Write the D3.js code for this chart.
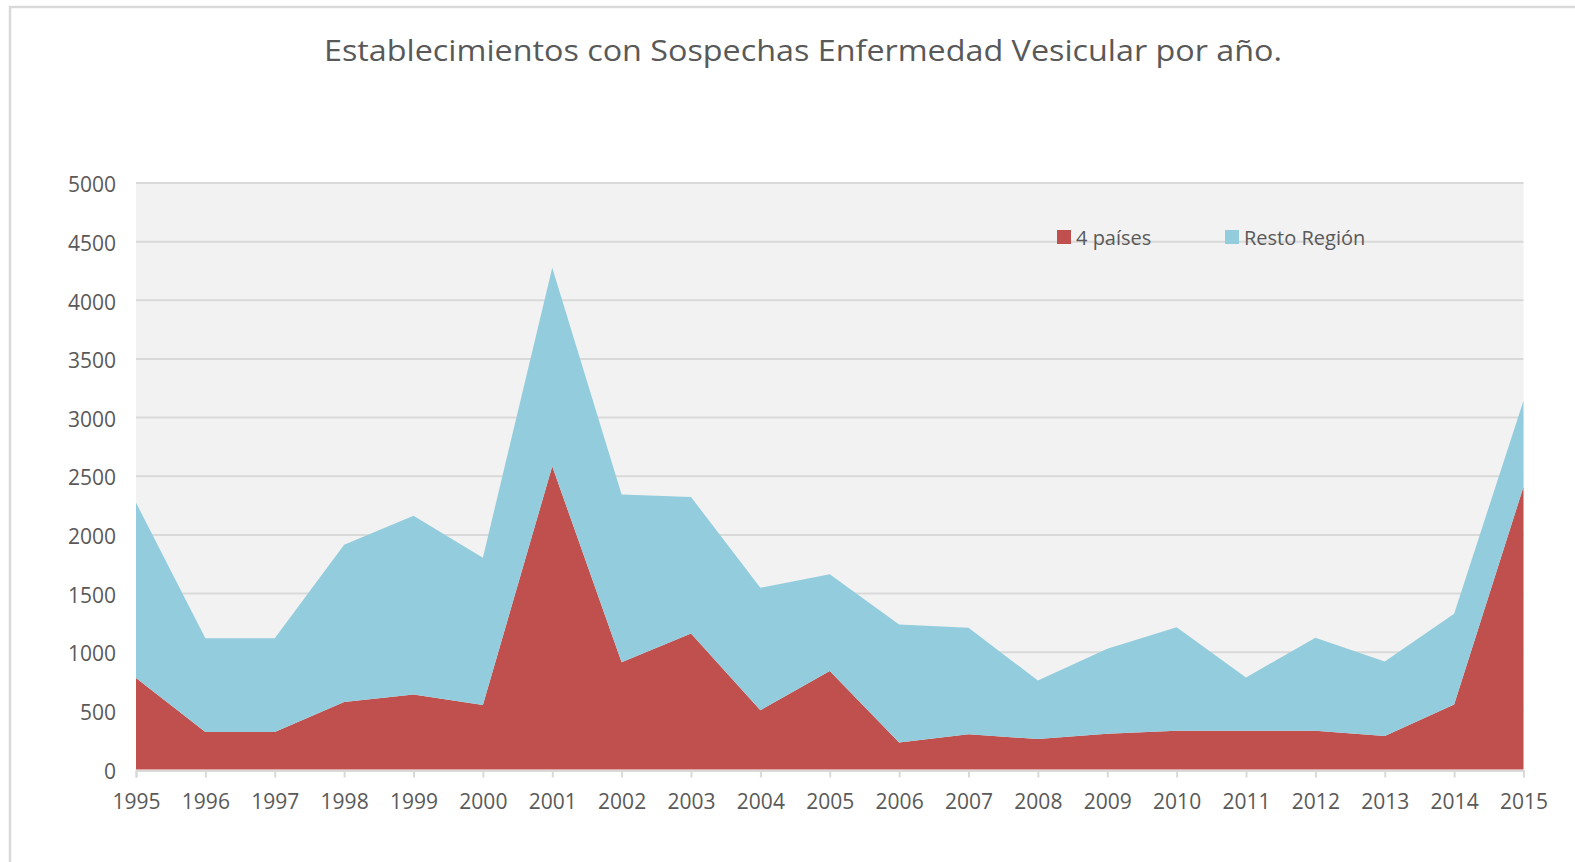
<!DOCTYPE html>
<html lang="es">
<head>
<meta charset="utf-8">
<title>Establecimientos con Sospechas Enfermedad Vesicular</title>
<script src="https://d3js.org/d3.v7.min.js"></script>
<style>
  body { margin: 0; background: #fff; }
  text { font-family: "Open Sans", "Noto Sans", sans-serif; fill: #595959; }
</style>
</head>
<body>
<div id="canvas"></div>
<script>
const width = 1575
const height = 862

// data
const years = [1995,1996,1997,1998,1999,2000,2001,2002,2003,2004,2005,2006,2007,2008,2009,2010,2011,2012,2013,2014,2015]
const cuatroPaises = [780,320,320,575,640,550,2585,915,1160,505,840,230,300,260,305,330,330,330,285,555,2410]
const restoRegion = [1495,798,798,1341,1524,1255,1693,1430,1163,1044,824,1006,908,499,725,883,455,793,636,773,734]
const yTicks = [0,500,1000,1500,2000,2500,3000,3500,4000,4500,5000]
const seriesNames = ["4 países", "Resto Región"]
const colors = ["#C0504D", "#93CDDD"]

const margin = {left: 136, right: 52, top: 183, bottom: 92}

const svg = d3.select("#canvas")
  .append("svg")
    .attr("width", width)
    .attr("height", height)

// outer frame
svg.append("rect")
  .attr("x", 10).attr("y", 7)
  .attr("width", width).attr("height", height)
  .attr("fill", "none")
  .attr("stroke", "#d9d9d9")
  .attr("stroke-width", 2.5)

svg.append("text")
  .attr("x", 803).attr("y", 61)
  .attr("text-anchor", "middle")
  .style("font-size", "30px")
  .attr("textLength", 958)
  .attr("lengthAdjust", "spacingAndGlyphs")
  .text("Establecimientos con Sospechas Enfermedad Vesicular por año.")

const x = d3.scaleLinear()
  .domain([years[0], years[years.length - 1]])
  .range([margin.left, width - margin.right + 0.5])

const y = d3.scaleLinear()
  .domain([0, 5000])
  .range([height - margin.bottom - 0.5, margin.top])

// plot background
svg.append("rect")
  .attr("x", x.range()[0]).attr("y", y(5000))
  .attr("width", x.range()[1] - x.range()[0])
  .attr("height", y(0) - y(5000))
  .attr("fill", "#f2f2f2")

// gridlines
svg.append("g")
  .selectAll("line")
  .data(yTicks.filter(d => d > 0))
  .join("line")
    .attr("x1", x.range()[0]).attr("x2", x.range()[1])
    .attr("y1", d => y(d)).attr("y2", d => y(d))
    .attr("stroke", "#d9d9d9")
    .attr("stroke-width", 2)

const table = years.map((yr, i) => ({year: yr, a: cuatroPaises[i], b: restoRegion[i]}))
const stack = d3.stack().keys(["a", "b"])(table)

const area = d3.area()
  .x(d => x(d.data.year))
  .y0(d => y(d[0]))
  .y1(d => y(d[1]))

svg.append("g")
  .selectAll("path")
  .data(stack)
  .join("path")
    .attr("d", area)
    .attr("fill", (d, i) => colors[i])

// x axis
const xAxis = svg.append("g")
  .attr("transform", `translate(0,${y(0) + 1})`)
  .call(d3.axisBottom(x).tickValues(years).tickFormat(d3.format("d")).tickSize(7).tickPadding(17))
xAxis.select(".domain").attr("stroke", "#d9d9d9").attr("stroke-width", 2)
xAxis.selectAll(".tick line").attr("stroke", "#d9d9d9").attr("stroke-width", 2)
xAxis.selectAll(".tick text").style("font-size", "21px").attr("fill", "#595959")

// y axis labels
const yAxis = svg.append("g")
  .attr("transform", `translate(${margin.left},2)`)
  .call(d3.axisLeft(y).tickValues(yTicks).tickFormat(d3.format("d")).tickSize(0).tickPadding(20))
yAxis.select(".domain").remove()
yAxis.selectAll(".tick text").style("font-size", "21px").attr("fill", "#595959")

// legend
const legendX = [1057, 1225]
const legend = svg.append("g")
  .selectAll("g")
  .data(seriesNames)
  .join("g")
    .attr("transform", (d, i) => `translate(${legendX[i]},230)`)
legend.append("rect")
  .attr("width", 14).attr("height", 14)
  .attr("fill", (d, i) => colors[i])
legend.append("text")
  .attr("x", 19).attr("y", 15)
  .style("font-size", "20px")
  .text(d => d)
</script>
</body>
</html>
